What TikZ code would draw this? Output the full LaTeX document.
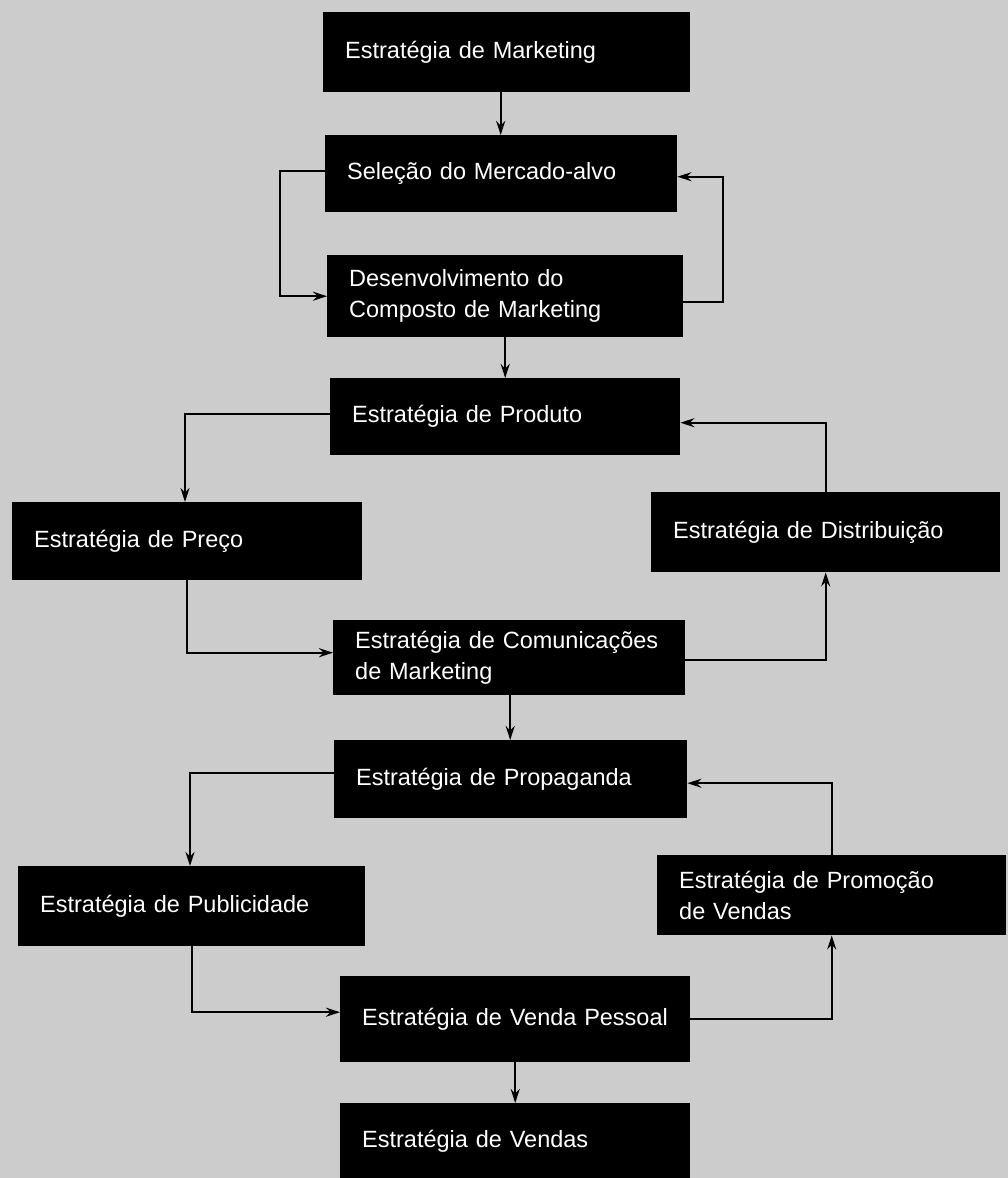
\documentclass[tikz,border=0pt]{standalone}
\usepackage{fontspec}
\setmainfont{Liberation Sans}
\usetikzlibrary{arrows.meta}
\tikzset{
  box/.style={draw=none, fill=black, text=white, anchor=north west, rectangle,
    inner xsep=22pt, inner ysep=0pt, align=left,
    font=\fontsize{23.5}{31}\selectfont},
  arr/.style={draw=black, line width=2pt, -{Stealth[length=14pt,width=9pt]}},
}
\newcommand{\bx}[6]{% name, x1, y1, x2, y2, text
  \pgfmathsetmacro{\bw}{#4-#2}\pgfmathsetmacro{\bh}{#5-#3}\pgfmathsetmacro{\tw}{#4-#2-44}
  \node[box, minimum width=\bw pt, minimum height=\bh pt, text width=\tw pt] (#1) at (#2,#3) {#6};}
\begin{document}
\hyphenpenalty=10000
\exhyphenpenalty=10000
\hbadness=10000
\hfuzz=50pt
\begin{tikzpicture}[x=1pt,y=-1pt]
\fill[black!20] (0,0) rectangle (1008,1178);
\useasboundingbox (0,0) rectangle (1008,1178);
\bx{b1}{323}{12}{690}{92}{Estratégia de Marketing}
\bx{b2}{325}{135}{677}{212}{Seleção do Mercado-alvo}
\bx{b3}{327}{255}{683}{337}{Desenvolvimento do\\Composto de Marketing}
\bx{b4}{330}{378}{680}{455}{Estratégia de Produto}
\bx{b5}{12}{502}{362}{580}{Estratégia de Preço}
\bx{b6}{651}{492}{1000}{572}{Estratégia de Distribuição}
\bx{b7}{333}{620}{685}{695}{Estratégia de Comunicações\\de Marketing}
\bx{b8}{334}{740}{687}{818}{Estratégia de Propaganda}
\bx{b9}{18}{866}{365}{946}{Estratégia de Publicidade}
\bx{b10}{657}{855}{1006}{935}{Estratégia de Promoção\\de Vendas}
\bx{b11}{340}{976}{690}{1062}{Estratégia de Venda Pessoal}
\bx{b12}{340}{1103}{690}{1180}{Estratégia de Vendas}
% vertical links
\draw[arr] ([xshift=-6pt]b1.south) -- ([xshift=-6pt]b1.south |- b2.north);
\draw[arr] (b3.south) -- (b3.south |- b4.north);
\draw[arr] ([xshift=1pt]b7.south) -- ([xshift=1pt]b7.south |- b8.north);
\draw[arr] (b11.south) -- (b11.south |- b12.north);
% loops
\draw[arr] ([yshift=3pt]b2.west) -- ++(-45,0) |- (b3.west);
\draw[arr] ([yshift=-6pt]b3.east) -- ++(40,0) |- ([yshift=-3pt]b2.east);
\draw[arr] ([yshift=3pt]b4.west) -| ([xshift=173pt]b5.north west);
\draw[arr] (b5.south) |- ([yshift=5pt]b7.west);
\draw[arr] ([yshift=-2pt]b7.east) -| (b6.south);
\draw[arr] (b6.north) |- ([yshift=-6pt]b4.east);
\draw[arr] ([yshift=6pt]b8.west) -| ([xshift=172pt]b9.north west);
\draw[arr] (b9.south) |- ([yshift=7pt]b11.west);
\draw[arr] (b11.east) -| (b10.south);
\draw[arr] (b10.north) |- ([yshift=-4pt]b8.east);
\end{tikzpicture}
\end{document}
